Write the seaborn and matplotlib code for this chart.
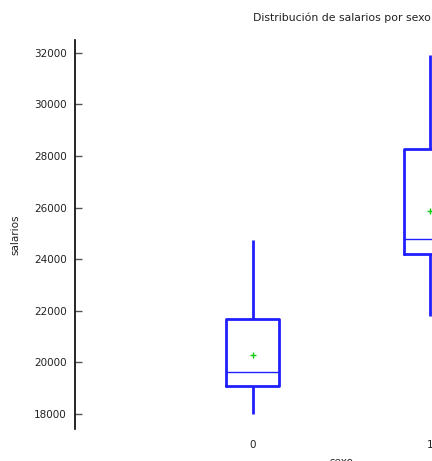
import numpy as np
import pandas as pd
import seaborn as sns
import matplotlib
matplotlib.use("Agg")
import matplotlib.pyplot as plt

# Salary samples per sex group (0 / 1)
salarios_0 = [17990, 18500, 19090, 19300, 19630, 19900, 21675, 21865, 24750]
salarios_1 = [21800, 23000, 24200, 24500, 24790, 25500, 28280, 28975, 31920]
sexo_labels = ["0", "1"]
y_ticks = [18000, 20000, 22000, 24000, 26000, 28000, 30000, 32000]

df = pd.DataFrame({
    "sexo": [sexo_labels[0]] * len(salarios_0) + [sexo_labels[1]] * len(salarios_1),
    "salarios": salarios_0 + salarios_1,
})

sns.set_style("white")
plt.rcParams["font.family"] = ["DejaVu Sans"]

fig = plt.figure(figsize=(4.32, 4.61), dpi=100)
ax = fig.add_axes([75 / 432, 32 / 461, 533 / 432, 389 / 461])

blue = "#1f1fff"
sns.boxplot(
    data=df, x="sexo", y="salarios", order=sexo_labels, ax=ax,
    fill=False, color=blue, linewidth=2.0, width=0.3,
    showcaps=False, showfliers=False, showmeans=True,
    medianprops=dict(linewidth=1.0, color=blue),
    meanprops=dict(marker="+", markeredgecolor="#11cc11", markersize=5,
                   markeredgewidth=1.0),
)

ax.set_xlim(-1, 2)
ax.set_ylim(17420, 32500)
ax.set_yticks(y_ticks)
ax.set_yticklabels([str(v) for v in y_ticks])

for side in ["top", "right", "bottom"]:
    ax.spines[side].set_visible(False)
ax.spines["left"].set_linewidth(1.2)
ax.spines["left"].set_color("black")

ax.tick_params(axis="y", left=True, direction="in", length=5, width=1,
               color="#555555", labelsize=7.5, pad=6, labelcolor="#222222")
ax.tick_params(axis="x", bottom=False, length=0, labelsize=7.5, pad=8,
               labelcolor="#222222")

ax.set_xlabel("sexo", fontsize=7.5, labelpad=5, color="#222222")
ax.set_ylabel("salarios", fontsize=7.5, labelpad=10, color="#222222")
ax.set_title("Distribución de salarios por sexo", fontsize=7.8, pad=14,
             color="#222222")

fig.savefig("out.png", dpi=100)
